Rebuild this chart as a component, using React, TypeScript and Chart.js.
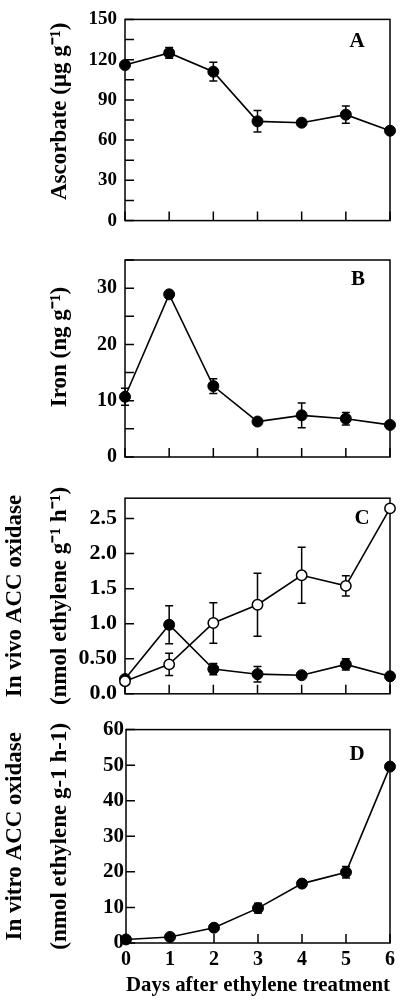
import React, { useEffect, useRef } from "react";
import { Chart, registerables } from "chart.js";

Chart.register(...registerables);

// ---------- data ----------
const days = [0, 1, 2, 3, 4, 5, 6];
const dayTickLabels = ["0", "1", "2", "3", "4", "5", "6"];

const ascorbate = [116, 125, 111, 74, 73, 79, 67];
const ascorbateErr = [0, 4, 7, 8, 1.5, 6.5, 0];
const ascorbateTickLabels = ["0", "30", "60", "90", "120", "150"];

const iron = [10.7, 28.9, 12.6, 6.3, 7.4, 6.8, 5.7];
const ironErr = [1.5, 0, 1.3, 0, 2.2, 1.1, 0];
const ironTickLabels = ["0", "10", "20", "30"];

const vivoOpen = [0.18, 0.42, 1.01, 1.27, 1.69, 1.54, 2.645];
const vivoOpenErr = [0, 0.16, 0.29, 0.45, 0.4, 0.145, 0];
const vivoFilled = [0.21, 0.985, 0.353, 0.28, 0.265, 0.42, 0.25];
const vivoFilledErr = [0, 0.27, 0.08, 0.11, 0.03, 0.08, 0];
const vivoTickLabels = ["0.0", "0.50", "1.0", "1.5", "2.0", "2.5"];

const vitro = [1.0, 1.7, 4.3, 9.8, 16.7, 19.9, 49.6];
const vitroErr = [0, 0, 0, 1.4, 0.8, 1.6, 0];
const vitroTickLabels = ["0", "10", "20", "30", "40", "50", "60"];

// ---------- styling ----------
const FAMILY = "'Liberation Serif', 'Times New Roman', serif";
const BLACK = "#000";
const TICK = 9;
const CAP = 4;

const decor = {
  id: "decor",
  beforeDatasetsDraw(chart: any) {
    const { ctx, chartArea: a } = chart;
    const x = chart.scales.x;
    const y = chart.scales.y;
    ctx.save();
    ctx.strokeStyle = BLACK;
    ctx.lineWidth = 1.5;
    ctx.beginPath();
    y.ticks.forEach((t: any) => {
      const py = y.getPixelForValue(t.value);
      ctx.moveTo(a.left, py);
      ctx.lineTo(a.left + TICK, py);
    });
    x.ticks.forEach((t: any) => {
      const px = x.getPixelForValue(t.value);
      ctx.moveTo(px, a.bottom);
      ctx.lineTo(px, a.bottom - TICK);
    });
    ctx.stroke();
    ctx.strokeRect(a.left, a.top, a.right - a.left, a.bottom - a.top);
    ctx.beginPath();
    chart.data.datasets.forEach((ds: any) => {
      const errs = ds.errors;
      if (!errs) return;
      ds.data.forEach((p: any, j: number) => {
        const e = errs[j];
        if (!e) return;
        const px = x.getPixelForValue(p.x);
        const top = y.getPixelForValue(p.y + e);
        const bot = y.getPixelForValue(p.y - e);
        ctx.moveTo(px, top);
        ctx.lineTo(px, bot);
        ctx.moveTo(px - CAP, top);
        ctx.lineTo(px + CAP, top);
        ctx.moveTo(px - CAP, bot);
        ctx.lineTo(px + CAP, bot);
      });
    });
    ctx.stroke();
    ctx.restore();
  },
  afterDraw(chart: any, _args: any, opts: any) {
    const { ctx, chartArea: a } = chart;
    ctx.save();
    ctx.fillStyle = BLACK;
    ctx.font = `bold 21px ${FAMILY}`;
    ctx.textAlign = "center";
    ctx.textBaseline = "middle";
    ctx.fillText(opts.letter, a.right - opts.dx, a.top + opts.dy);
    ctx.restore();
  },
};

function series(values: number[], errs: number[], open: boolean) {
  return {
    data: days.map((d, i) => ({ x: d, y: values[i] })),
    errors: errs,
    borderColor: BLACK,
    borderWidth: 1.6,
    pointRadius: open ? 5.2 : 5.5,
    pointHoverRadius: open ? 5.2 : 5.5,
    pointBackgroundColor: open ? "#fff" : BLACK,
    pointBorderColor: BLACK,
    pointBorderWidth: open ? 1.5 : 1,
    tension: 0,
    fill: false,
    clip: false,
  };
}

function yScale(
  min: number,
  max: number,
  step: number,
  labelFn: (v: number) => string,
  title: string | string[],
  titleSize: number,
  titlePad: number,
  lineHeight: any,
  labelPad: number,
  labelSize: number,
  width: number
) {
  return {
    type: "linear",
    position: "left",
    min,
    max,
    afterFit: (s: any) => {
      s.width = width;
    },
    grid: { display: false, drawTicks: false },
    border: { display: false },
    ticks: {
      stepSize: step,
      includeBounds: false,
      autoSkip: false,
      padding: labelPad,
      color: BLACK,
      font: { family: FAMILY, size: labelSize, weight: "bold" },
      callback: (v: number) => labelFn(v),
    },
    title: {
      display: true,
      text: title,
      color: BLACK,
      font: { family: FAMILY, size: titleSize, weight: "bold", lineHeight },
      padding: { top: titlePad, bottom: 0 },
    },
  };
}

function xScale(showLabels: boolean) {
  return {
    type: "linear",
    position: "bottom",
    min: 0,
    max: 6,
    afterFit: (s: any) => {
      s.height = showLabels ? 58 : 0;
    },
    grid: { display: false, drawTicks: false },
    border: { display: false },
    ticks: {
      display: showLabels,
      stepSize: 1,
      includeBounds: false,
      autoSkip: false,
      maxRotation: 0,
      padding: 5,
      color: BLACK,
      font: { family: FAMILY, size: 20, weight: "bold" },
      callback: (v: number) => dayTickLabels[v] ?? "",
    },
    title: {
      display: showLabels,
      text: "Days after ethylene treatment",
      color: BLACK,
      font: { family: FAMILY, size: 22, weight: "bold" },
      padding: { top: 0, bottom: 2 },
    },
  };
}

type PanelDef = {
  top: number;
  height: number;
  padTop: number;
  padBottom: number;
  datasets: any[];
  y: any;
  showX: boolean;
  letter: string;
  dx: number;
  dy: number;
};

const panels: PanelDef[] = [
  {
    top: 0,
    height: 240,
    padTop: 10.3,
    padBottom: 10.7,
    datasets: [series(ascorbate, ascorbateErr, false)],
    y: yScale(
      0,
      150,
      15,
      (v) => (v % 30 === 0 ? ascorbateTickLabels[v / 30] : ""),
      "   Ascorbate (\u03BCg g\u207B\u00B9)",
      23,
      46,
      1.2,
      8,
      19,
      125
    ),
    showX: false,
    letter: "A",
    dx: 33,
    dy: 22,
  },
  {
    top: 240,
    height: 237,
    padTop: 11.7,
    padBottom: 9.5,
    datasets: [series(iron, ironErr, false)],
    y: yScale(
      0,
      35,
      5,
      (v) => (v % 10 === 0 ? ironTickLabels[v / 10] : ""),
      "    Iron (ng g\u207B\u00B9)",
      23,
      46,
      1.2,
      8,
      20,
      125
    ),
    showX: false,
    letter: "B",
    dx: 32,
    dy: 20,
  },
  {
    top: 477,
    height: 238,
    padTop: 9.7,
    padBottom: 11.9,
    datasets: [series(vivoOpen, vivoOpenErr, true), series(vivoFilled, vivoFilledErr, false)],
    y: yScale(
      0,
      2.79,
      0.5,
      (v) => vivoTickLabels[Math.round(v / 0.5)] ?? "",
      ["In vivo ACC oxidase", "(nmol ethylene g\u207B\u00B9 h\u207B\u00B9)"],
      23,
      -7.5,
      "45px",
      8,
      22,
      125
    ),
    showX: false,
    letter: "C",
    dx: 28,
    dy: 20,
  },
  {
    top: 715,
    height: 286,
    padTop: 12.7,
    padBottom: 0,
    datasets: [series(vitro, vitroErr, false)],
    y: yScale(
      0,
      60,
      10,
      (v) => vitroTickLabels[v / 10] ?? "",
      ["In vitro ACC oxidase", "(nmol ethylene g-1 h-1)"],
      23,
      -7.5,
      "45px",
      2,
      21,
      126
    ),
    showX: true,
    letter: "D",
    dx: 33,
    dy: 25,
  },
];

function Panel({ def }: { def: PanelDef }) {
  const ref = useRef<HTMLCanvasElement | null>(null);
  useEffect(() => {
    if (!ref.current) return;
    const chart = new Chart(ref.current, {
      type: "line",
      data: { datasets: def.datasets },
      options: {
        responsive: false,
        animation: false,
        devicePixelRatio: 1,
        layout: { padding: { top: def.padTop, bottom: def.padBottom, left: 0, right: 10 } },
        scales: { x: xScale(def.showX) as any, y: def.y },
        plugins: {
          legend: { display: false },
          tooltip: { enabled: false },
          decor: { letter: def.letter, dx: def.dx, dy: def.dy },
        } as any,
      },
      plugins: [decor as any],
    } as any);
    return () => chart.destroy();
  }, [def]);
  return (
    <canvas
      ref={ref}
      width={400}
      height={def.height}
      style={{ position: "absolute", left: 0, top: def.top, width: 400, height: def.height, display: "block" }}
    />
  );
}

export default function App() {
  return (
    <div style={{ position: "absolute", left: 0, top: 0, width: 400, height: 1001, background: "#fff" }}>
      {panels.map((p) => (
        <Panel key={p.letter} def={p} />
      ))}
    </div>
  );
}
